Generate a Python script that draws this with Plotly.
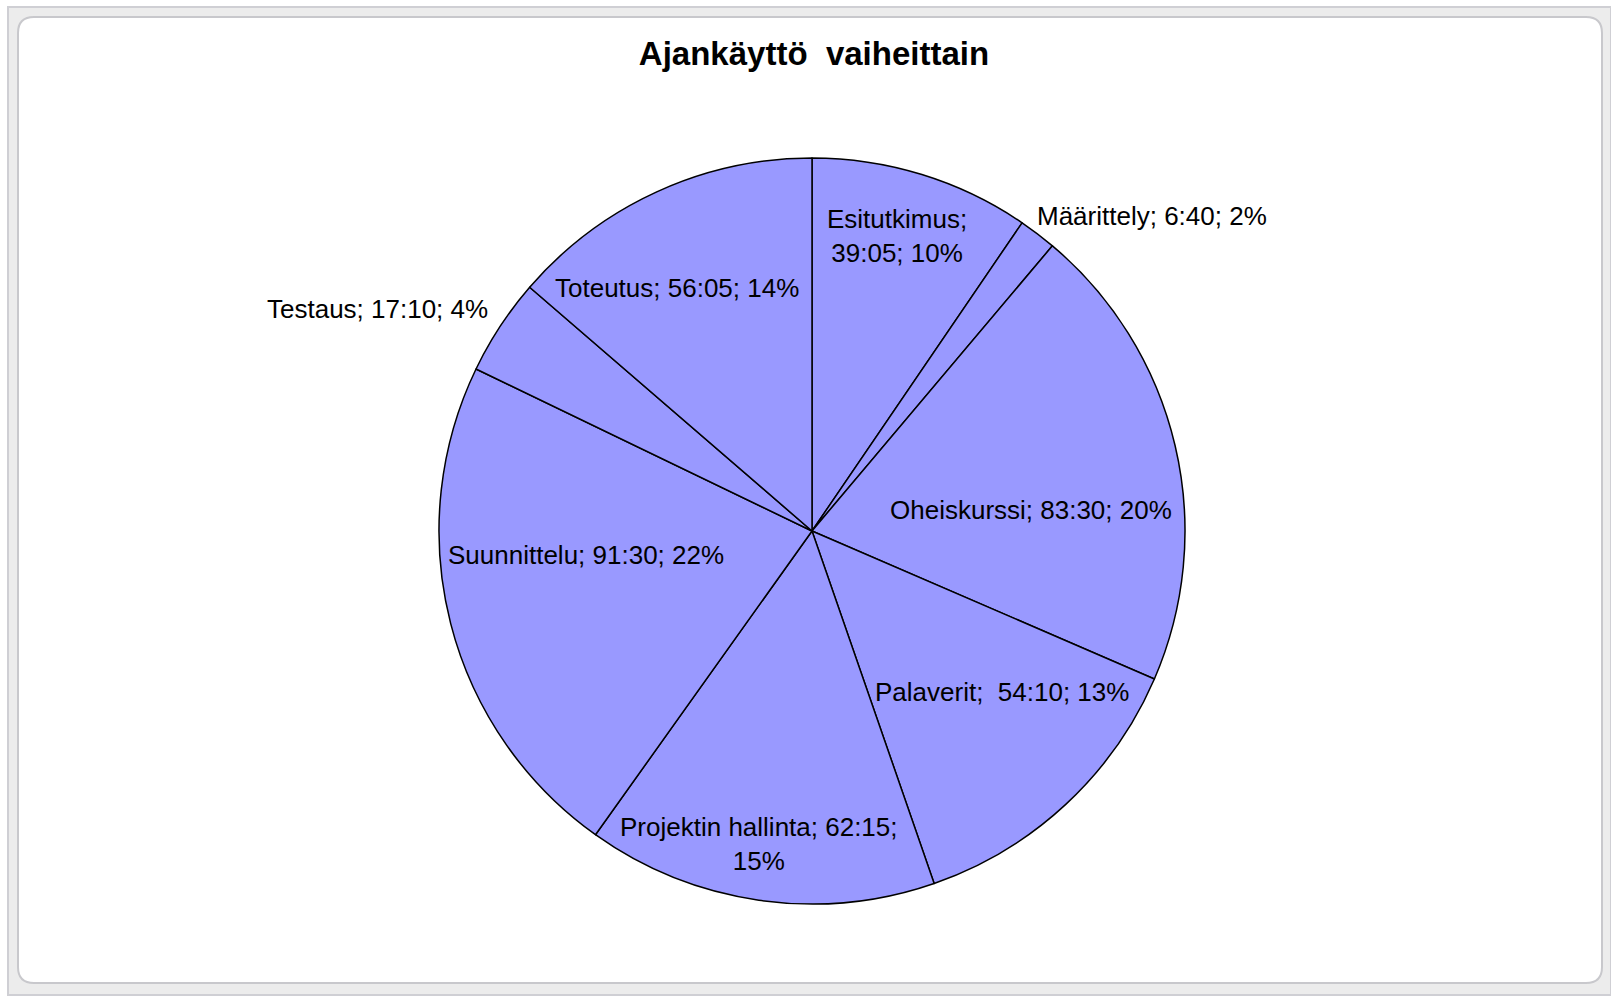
import math
import plotly.graph_objects as go

W, H = 1611, 996

labels = ["Esitutkimus", "Määrittely", "Oheiskurssi", "Palaverit",
          "Projektin hallinta", "Suunnittelu", "Testaus", "Toteutus"]
times = ["39:05", "6:40", "83:30", "54:10", "62:15", "91:30", "17:10", "56:05"]
minutes = [2345, 400, 5010, 3250, 3735, 5490, 1030, 3365]

# label text separators (line breaks as in the original chart)
label_sep = [";<br>", "; ", "; ", ";\u00a0 ", "; ", "; ", "; ", "; "]
label_sep2 = ["; ", "; ", "; ", "; ", ";<br>", "; ", "; ", "; "]
# polar placement of each label: (angle nudge in degrees from slice mid-angle, radius fraction)
label_polar = [(-1.0, 0.823), (10.0, 1.243), (7.7, 0.590), (-6.8, 0.668),
               (1.4, 0.851), (8.3, 0.609), (-6.2, 1.307), (-4.5, 0.745)]

title_text = "Ajankäyttö\u00a0 vaiheittain"
FONT = "Liberation Sans, Arial, sans-serif"

cx, cy, r = 812, 531, 373


def px(x):
    return x / W


def py(y):
    return 1 - y / H


total = sum(minutes)
pcts = [round(100 * v / total) for v in minutes]
texts = [f"{lab}{s1}{t}{s2}{p}%" for lab, s1, t, s2, p in zip(labels, label_sep, times, label_sep2, pcts)]

fig = go.Figure(go.Pie(
    labels=labels,
    values=minutes,
    text=texts,
    textinfo="none",
    sort=False,
    direction="clockwise",
    rotation=0,
    marker=dict(colors=["#9999FF"] * len(labels), line=dict(color="#000000", width=1.5)),
    showlegend=False,
    hoverinfo="label+percent",
    domain=dict(x=[px(cx - r), px(cx + r)], y=[py(cy + r), py(cy - r)]),
))

# labels as annotations placed along each slice's mid-angle
annotations = []
cum = 0
for i, v in enumerate(minutes):
    mid = (cum + v / 2) / total * 360
    cum += v
    da, f = label_polar[i]
    a = math.radians(mid + da)
    x = cx + f * r * math.sin(a)
    y = cy - f * r * math.cos(a)
    annotations.append(dict(
        x=px(x), y=py(y), xref="paper", yref="paper", text=texts[i], showarrow=False,
        xanchor="center", yanchor="middle", align="center",
        font=dict(family=FONT, size=26, color="#000000"),
    ))


def rounded_path(x0, y0, x1, y1, rx, ry):
    return (f"M {x0+rx},{y0} L {x1-rx},{y0} Q {x1},{y0} {x1},{y0-ry} "
            f"L {x1},{y1+ry} Q {x1},{y1} {x1-rx},{y1} L {x0+rx},{y1} "
            f"Q {x0},{y1} {x0},{y1+ry} L {x0},{y0-ry} Q {x0},{y0} {x0+rx},{y0} Z")


rad = 16
shapes = [
    dict(type="rect", xref="paper", yref="paper", x0=px(8), x1=px(1611), y0=py(7), y1=py(995),
         line=dict(color="#cfcfd4", width=2), fillcolor="#ececec", layer="below"),
    dict(type="path", xref="paper", yref="paper",
         path=rounded_path(px(18), py(17), px(1602), py(983), rad / W, rad / H),
         line=dict(color="#c8c8cc", width=2), fillcolor="#ffffff", layer="below"),
]

fig.update_layout(
    width=W, height=H,
    margin=dict(l=0, r=0, t=0, b=0),
    paper_bgcolor="#ffffff",
    title=dict(text="<b>" + title_text + "</b>", x=px(814), xanchor="center",
               y=py(53), yanchor="middle",
               font=dict(family=FONT, size=33, color="#000000")),
    shapes=shapes,
    annotations=annotations,
)

fig.write_html("out.html", config={"displayModeBar": False},
               post_script="document.body.style.margin='0';document.body.style.overflow='hidden';")
